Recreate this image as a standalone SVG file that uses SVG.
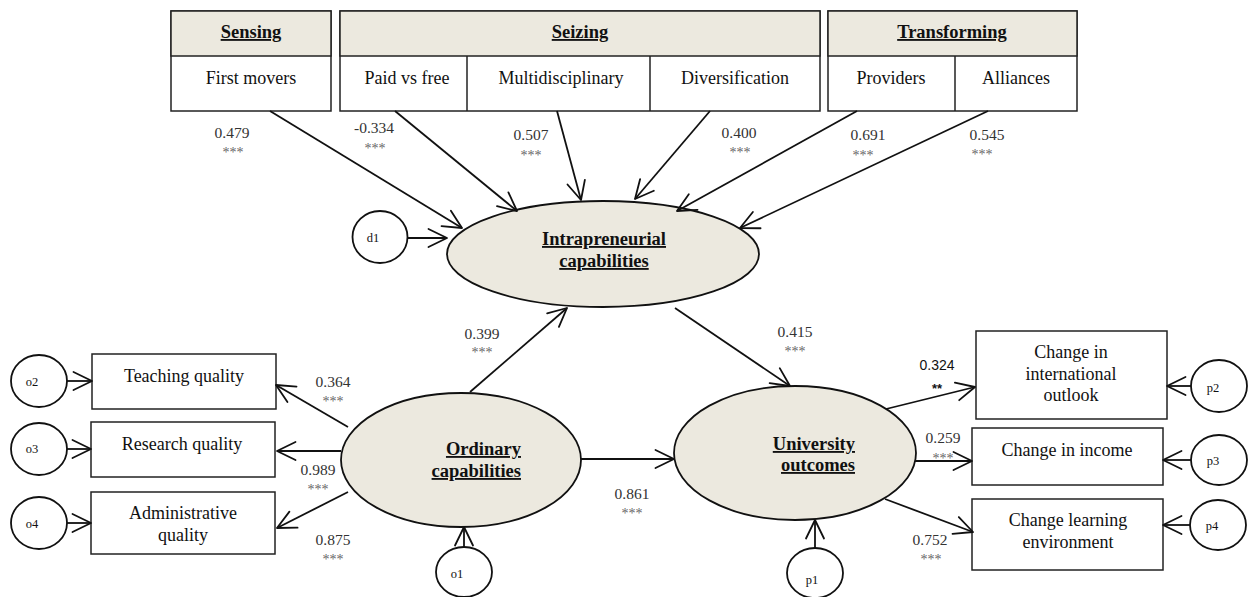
<svg xmlns="http://www.w3.org/2000/svg" width="1249" height="597" viewBox="0 0 1249 597">
<style>
.box{fill:#fff;stroke:#222;stroke-width:1.5}
.hdr{fill:#ECE9DF;stroke:#222;stroke-width:1.5}
.div{stroke:#222;stroke-width:1.5}
.lat{fill:#ECE9DF;stroke:#111;stroke-width:1.8}
.err{fill:#fff;stroke:#111;stroke-width:1.8}
.t{font-family:"Liberation Serif","Times New Roman",serif;font-size:18px;fill:#111;text-anchor:middle}
.h{font-family:"Liberation Serif","Times New Roman",serif;font-size:18.5px;font-weight:bold;fill:#111;text-anchor:middle;text-decoration:underline}
.s{font-family:"Liberation Serif","Times New Roman",serif;font-size:12.5px;fill:#111;text-anchor:middle}
.n{font-family:"Liberation Serif","Times New Roman",serif;font-size:15.5px;fill:#333;text-anchor:middle}
.st{font-family:"Liberation Serif","Times New Roman",serif;font-size:14px;fill:#666;text-anchor:middle}
.c line{stroke:#111;stroke-width:1.8;marker-end:url(#ah)}
</style>
<defs>
<marker id="ah" markerUnits="userSpaceOnUse" markerWidth="30" markerHeight="30" viewBox="-24 -15 30 30" refX="0" refY="0" orient="auto">
<path d="M-18.5,-9 L0,0 L-18.5,9" fill="none" stroke="#111" stroke-width="1.8" stroke-linejoin="round" stroke-linecap="round"/>
</marker>
</defs>
<rect width="1249" height="597" fill="#fff"/>

<g id="sensing">
<rect class="box" x="171" y="11" width="160" height="100"/>
<rect class="hdr" x="171" y="11" width="160" height="45"/>
<text class="h" x="251" y="38">Sensing</text>
<text class="t" x="251" y="84">First movers</text>
</g>
<g id="seizing">
<rect class="box" x="340" y="11" width="480" height="100"/>
<rect class="hdr" x="340" y="11" width="480" height="45"/>
<line class="div" x1="467" y1="56" x2="467" y2="111"/>
<line class="div" x1="650" y1="56" x2="650" y2="111"/>
<text class="h" x="580" y="38">Seizing</text>
<text class="t" x="407" y="84">Paid vs free</text>
<text class="t" x="561" y="84">Multidisciplinary</text>
<text class="t" x="735" y="84">Diversification</text>
</g>
<g id="transforming">
<rect class="box" x="828" y="11" width="249" height="100"/>
<rect class="hdr" x="828" y="11" width="249" height="45"/>
<line class="div" x1="955" y1="56" x2="955" y2="111"/>
<text class="h" x="952" y="38">Transforming</text>
<text class="t" x="891" y="84">Providers</text>
<text class="t" x="1016" y="84">Alliances</text>
</g>

<g id="intrapreneurial">
<ellipse class="lat" cx="603" cy="254" rx="156" ry="53"/>
<text class="h" x="604" y="245">Intrapreneurial</text>
<text class="h" x="604" y="267">capabilities</text>
</g>
<g id="ordinary">
<ellipse class="lat" cx="461" cy="460" rx="120" ry="67"/>
<text class="h" x="521" y="455" style="text-anchor:end">Ordinary</text>
<text class="h" x="521" y="477" style="text-anchor:end">capabilities</text>
</g>
<g id="university">
<ellipse class="lat" cx="795" cy="453" rx="121" ry="67"/>
<text class="h" x="855" y="450" style="text-anchor:end">University</text>
<text class="h" x="855" y="471" style="text-anchor:end">outcomes</text>
</g>

<g id="teaching">
<rect class="box" x="92" y="354" width="184" height="55"/>
<text class="t" x="184" y="382">Teaching quality</text>
</g>
<g id="research">
<rect class="box" x="91" y="422" width="184" height="55"/>
<text class="t" x="182" y="450">Research quality</text>
</g>
<g id="administrative">
<rect class="box" x="91" y="492" width="184" height="62"/>
<text class="t" x="183" y="519">Administrative</text>
<text class="t" x="183" y="541">quality</text>
</g>
<g id="intl">
<rect class="box" x="976" y="331" width="191" height="88"/>
<text class="t" x="1071" y="358">Change in</text>
<text class="t" x="1071" y="380">international</text>
<text class="t" x="1071" y="401">outlook</text>
</g>
<g id="income">
<rect class="box" x="972" y="428" width="191" height="57"/>
<text class="t" x="1067" y="456">Change in income</text>
</g>
<g id="learning">
<rect class="box" x="972" y="499" width="191" height="71"/>
<text class="t" x="1068" y="526">Change learning</text>
<text class="t" x="1068" y="548">environment</text>
</g>

<g id="d1"><ellipse class="err" cx="380" cy="237" rx="27.5" ry="26"/><text class="s" x="373" y="242">d1</text></g>
<g id="o2"><ellipse class="err" cx="39" cy="381" rx="28" ry="26"/><text class="s" x="32" y="386">o2</text></g>
<g id="o3"><ellipse class="err" cx="39" cy="449" rx="28" ry="26"/><text class="s" x="32" y="453">o3</text></g>
<g id="o4"><ellipse class="err" cx="39" cy="523" rx="28" ry="26"/><text class="s" x="32" y="528">o4</text></g>
<g id="o1"><ellipse class="err" cx="464" cy="572" rx="28" ry="25"/><text class="s" x="457" y="578">o1</text></g>
<g id="p1"><ellipse class="err" cx="815" cy="573" rx="28" ry="25"/><text class="s" x="812" y="584">p1</text></g>
<g id="p2"><ellipse class="err" cx="1219" cy="386" rx="28" ry="26"/><text class="s" x="1213" y="392">p2</text></g>
<g id="p3"><ellipse class="err" cx="1219" cy="460" rx="28" ry="25"/><text class="s" x="1213" y="465">p3</text></g>
<g id="p4"><ellipse class="err" cx="1218" cy="525" rx="28" ry="25"/><text class="s" x="1212" y="530">p4</text></g>

<g id="connectors" class="c">
<line x1="270" y1="111" x2="462" y2="228"/>
<line x1="395" y1="111" x2="517" y2="211"/>
<line x1="557" y1="111" x2="581" y2="200"/>
<line x1="710" y1="111" x2="635" y2="199"/>
<line x1="857" y1="111" x2="677" y2="211"/>
<line x1="988" y1="111" x2="740" y2="228"/>
<line x1="407" y1="238" x2="447" y2="238"/>
<line x1="348" y1="427" x2="276" y2="385"/>
<line x1="341" y1="451" x2="277" y2="451"/>
<line x1="348" y1="492" x2="277" y2="528"/>
<line x1="67" y1="381" x2="92" y2="381"/>
<line x1="67" y1="449" x2="91" y2="449"/>
<line x1="67" y1="523" x2="91" y2="523"/>
<line x1="470" y1="392" x2="567" y2="308"/>
<line x1="675" y1="308" x2="790" y2="386"/>
<line x1="581" y1="459" x2="674" y2="459"/>
<line x1="464" y1="547" x2="464" y2="527"/>
<line x1="815" y1="548" x2="815" y2="520"/>
<line x1="886" y1="409" x2="975" y2="387"/>
<line x1="915" y1="461" x2="972" y2="461"/>
<line x1="885" y1="499" x2="973" y2="532"/>
<line x1="1191" y1="386" x2="1167" y2="386"/>
<line x1="1191" y1="460" x2="1163" y2="460"/>
<line x1="1190" y1="525" x2="1163" y2="525"/>
</g>

<g id="labels">
<text class="n" x="232" y="138">0.479</text><text class="st" x="233" y="157">***</text>
<text class="n" x="374" y="133">-0.334</text><text class="st" x="375" y="153">***</text>
<text class="n" x="531" y="140">0.507</text><text class="st" x="531" y="160">***</text>
<text class="n" x="739" y="138">0.400</text><text class="st" x="740" y="157">***</text>
<text class="n" x="868" y="140">0.691</text><text class="st" x="863" y="160">***</text>
<text class="n" x="987" y="140">0.545</text><text class="st" x="982" y="159">***</text>
<text class="n" x="333" y="387">0.364</text><text class="st" x="333" y="406">***</text>
<text class="n" x="318" y="475">0.989</text><text class="st" x="318" y="494">***</text>
<text class="n" x="333" y="545">0.875</text><text class="st" x="333" y="564">***</text>
<text class="n" x="482" y="339">0.399</text><text class="st" x="482" y="357">***</text>
<text class="n" x="795" y="337">0.415</text><text class="st" x="795" y="356">***</text>
<text class="n" x="632" y="499">0.861</text><text class="st" x="632" y="518">***</text>
<text x="937" y="370" style="font-family:'Liberation Sans',Arial,sans-serif;font-size:14px;fill:#111;text-anchor:middle">0.324</text>
<text x="937" y="393" style="font-family:'Liberation Sans',Arial,sans-serif;font-size:13px;font-weight:bold;fill:#111;text-anchor:middle">**</text>
<text class="n" x="943" y="443">0.259</text><text class="st" x="943" y="463">***</text>
<text class="n" x="930" y="545">0.752</text><text class="st" x="931" y="564">***</text>
</g>
</svg>
